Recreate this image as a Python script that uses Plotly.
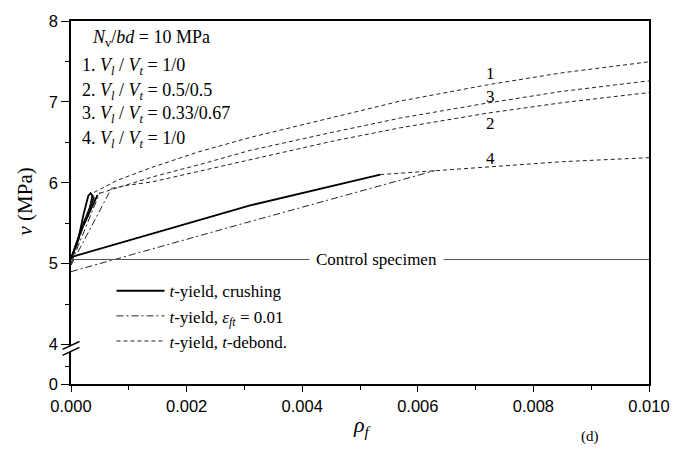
import plotly.graph_objects as go

# ---------------- data ----------------
# case 1-3: t-yield, crushing (solid)
rho_c1 = [0.0, 0.00012, 0.00022, 0.00030, 0.00034, 0.00037, 0.00030, 0.00014]
v_c1 = [5.06, 5.28, 5.62, 5.84, 5.87, 5.84, 5.60, 5.36]
rho_c2 = [0.0, 0.00020, 0.00046]
v_c2 = [5.06, 5.45, 5.85]
rho_c3 = [0.0, 0.00020, 0.00040]
v_c3 = [5.06, 5.47, 5.82]
# case 4 crushing
rho_c4 = [0.0, 0.0031, 0.00535]
v_c4 = [5.08, 5.72, 6.10]

# t-yield, eps_ft = 0.01 (dash-dot)
rho_e1 = [0.0, 0.00040]
v_e1 = [5.00, 5.86]
rho_e3 = [0.0, 0.00050]
v_e3 = [5.00, 5.88]
rho_e2 = [0.0, 0.00070]
v_e2 = [4.98, 5.93]
rho_e4 = [0.0, 0.0031, 0.0063]
v_e4 = [4.90, 5.52, 6.15]

# t-yield, t-debond (dashed)
rho_d1 = [0.0004, 0.0008, 0.0014, 0.0022, 0.0031, 0.0045, 0.0057, 0.0072, 0.0085, 0.0100]
v_d1 = [5.88, 6.03, 6.19, 6.38, 6.56, 6.80, 7.01, 7.21, 7.36, 7.495]
rho_d3 = [0.0005, 0.0009, 0.0014, 0.0022, 0.0031, 0.0045, 0.0057, 0.0072, 0.0085, 0.0100]
v_d3 = [5.87, 5.96, 6.07, 6.22, 6.40, 6.62, 6.80, 6.985, 7.13, 7.26]
rho_d2 = [0.0007, 0.0010, 0.0014, 0.0022, 0.0031, 0.0045, 0.0057, 0.0072, 0.0085, 0.0100]
v_d2 = [5.93, 5.97, 6.01, 6.14, 6.28, 6.51, 6.68, 6.86, 6.99, 7.115]
rho_d4 = [0.00535, 0.0063, 0.0072, 0.0085, 0.0100]
v_d4 = [6.10, 6.15, 6.20, 6.26, 6.31]

# control specimen
rho_ctrl = [0.0, 0.010]
v_ctrl = [5.05, 5.05]

# curve labels
lab_text = ["1", "3", "2", "4"]
lab_rho = [0.00725, 0.00725, 0.00725, 0.00725]
lab_v = [7.35, 7.07, 6.73, 6.30]

case_lines = [
    "1. <i>V</i><sub><i>l</i></sub> / <i>V</i><sub><i>t</i></sub> = 1/0",
    "2. <i>V</i><sub><i>l</i></sub> / <i>V</i><sub><i>t</i></sub> = 0.5/0.5",
    "3. <i>V</i><sub><i>l</i></sub> / <i>V</i><sub><i>t</i></sub> = 0.33/0.67",
    "4. <i>V</i><sub><i>l</i></sub> / <i>V</i><sub><i>t</i></sub> = 1/0",
]

x_ticks = [0.0, 0.002, 0.004, 0.006, 0.008, 0.010]
y_ticks_up = [4, 5, 6, 7, 8]

# ---------------- styles ----------------
SERIF = "Liberation Serif, Times New Roman, serif"
SANS = "Liberation Sans, Arial, sans-serif"
SOLID = dict(color="black", width=1.8, dash="solid")
DASHDOT = dict(color="#222", width=1.0, dash="7px,3px,2px,3px")
DASHED = dict(color="#222", width=1.0, dash="4px,3px")

fig = go.Figure()

def add(x, y, line, name, show):
    fig.add_trace(go.Scatter(x=x, y=y, mode="lines", line=line, name=name,
                             legendgroup=name, showlegend=show,
                             xaxis="x2", yaxis="y2", hoverinfo="skip"))

N_CRUSH = "<i>t</i>-yield, crushing"
N_EPS = "<i>t</i>-yield, <i>ε</i><sub><i>ft</i></sub> = 0.01"
N_DEB = "<i>t</i>-yield, <i>t</i>-debond."

add(rho_c1, v_c1, SOLID, N_CRUSH, True)
add(rho_c2, v_c2, SOLID, N_CRUSH, False)
add(rho_c3, v_c3, SOLID, N_CRUSH, False)
add(rho_c4, v_c4, SOLID, N_CRUSH, False)
add(rho_e1, v_e1, DASHDOT, N_EPS, True)
add(rho_e2, v_e2, DASHDOT, N_EPS, False)
add(rho_e3, v_e3, DASHDOT, N_EPS, False)
add(rho_e4, v_e4, DASHDOT, N_EPS, False)
add(rho_d1, v_d1, DASHED, N_DEB, True)
add(rho_d2, v_d2, DASHED, N_DEB, False)
add(rho_d3, v_d3, DASHED, N_DEB, False)
add(rho_d4, v_d4, DASHED, N_DEB, False)
fig.add_trace(go.Scatter(x=rho_ctrl, y=v_ctrl, mode="lines",
                         line=dict(color="#555", width=1.0), showlegend=False,
                         xaxis="x2", yaxis="y2", hoverinfo="skip"))
# empty trace so that the lower (broken) axis segment is rendered
fig.add_trace(go.Scatter(x=[None], y=[None], mode="lines", showlegend=False,
                         xaxis="x", yaxis="y", hoverinfo="skip"))

# ---------------- layout geometry ----------------
W, H = 690, 452
L, R, T, B = 70.5, 41, 17, 68
plot_h = H - T - B           # 367
low_frac = 36 / plot_h       # lower (0-4) segment height fraction

def px(xp):
    return (xp - L) / (W - L - R)

def py(yp):
    return (H - B - yp) / plot_h

axis_common = dict(showgrid=False, zeroline=False, linecolor="black",
                   linewidth=1.6, tickcolor="black",
                   tickfont=dict(family=SANS, size=16.5, color="black"))

fig.update_layout(
    width=W, height=H,
    margin=dict(l=L, r=R, t=T, b=B, pad=0),
    plot_bgcolor="white", paper_bgcolor="white",
    xaxis=dict(domain=[0, 1], anchor="y", range=[0, 0.010],
               tickvals=x_ticks, tickformat=".3f", ticks="outside", ticklen=6,
               tickwidth=1.3, showline=True, mirror=False,
               minor=dict(dtick=0.001, ticks="outside", ticklen=4,
                          tickcolor="black", tickwidth=1.2),
               **axis_common),
    yaxis=dict(domain=[0, low_frac], anchor="x", range=[0, 4],
               tickvals=[0], ticks="outside", ticklen=8, tickwidth=1.3,
               showline=True, mirror=True,
               minor=dict(tickvals=[2], ticks="outside", ticklen=4,
                          tickcolor="black", tickwidth=1.2),
               **axis_common),
    xaxis2=dict(domain=[0, 1], anchor="y2", range=[0, 0.010], side="top",
                showline=True, showticklabels=False, ticks="", mirror=False,
                **axis_common),
    yaxis2=dict(domain=[low_frac, 1], anchor="x2",
                range=[4 - 4 / 81.75, 8], tickvals=y_ticks_up,
                ticks="outside", ticklen=8, tickwidth=1.3,
                showline=True, mirror=True,
                minor=dict(dtick=0.5, ticks="outside", ticklen=4,
                           tickcolor="black", tickwidth=1.2),
                **axis_common),
    legend=dict(x=px(111), y=py(272), xanchor="left", yanchor="top",
                bgcolor="rgba(0,0,0,0)", borderwidth=0,
                font=dict(family=SERIF, size=17, color="black"),
                itemwidth=48, tracegroupgap=0, traceorder="normal"),
)

annotations = []
annotations.append(dict(text="<i>N</i><sub>v</sub>/<i>bd</i> = 10 MPa",
                        x=px(90), y=py(35), xref="paper", yref="paper",
                        xanchor="left", yanchor="middle", showarrow=False,
                        font=dict(family=SERIF, size=18, color="black")))
for i, (s, ypix) in enumerate(zip(case_lines, [63, 88, 112, 137])):
    annotations.append(dict(text=s, x=px(80), y=py(ypix), xref="paper",
                            yref="paper", xanchor="left", yanchor="middle",
                            showarrow=False,
                            font=dict(family=SERIF, size=18, color="black")))
for t, xr, yv in zip(lab_text, lab_rho, lab_v):
    annotations.append(dict(text=t, x=xr, y=yv, xref="x2", yref="y2",
                            xanchor="center", yanchor="middle",
                            showarrow=False,
                            font=dict(family=SERIF, size=17, color="black")))
annotations.append(dict(text="Control specimen", x=0.00528, y=v_ctrl[0],
                        xref="x2", yref="y2", showarrow=False,
                        xanchor="center", yanchor="middle",
                        bgcolor="white", borderpad=6,
                        font=dict(family=SERIF, size=17, color="black")))
annotations.append(dict(text="<i>v</i> (MPa)", x=px(24), y=py(200),
                        xref="paper", yref="paper", textangle=-90,
                        xanchor="center", yanchor="middle",
                        showarrow=False,
                        font=dict(family=SERIF, size=21, color="black")))
annotations.append(dict(text="<i>ρ</i><sub><i>f</i></sub>", x=px(362),
                        y=py(426), xref="paper", yref="paper",
                        xanchor="center", yanchor="middle",
                        showarrow=False,
                        font=dict(family=SERIF, size=22, color="black")))
annotations.append(dict(text="(d)", x=px(590), y=py(437), xref="paper",
                        yref="paper", xanchor="center", yanchor="middle",
                        showarrow=False,
                        font=dict(family=SERIF, size=15, color="black")))
fig.update_layout(annotations=annotations)

# axis break marks
x1, x2 = px(62), px(79)
shapes = [
    dict(type="path", xref="paper", yref="paper",
         path=f"M {x1},{py(349)} L {x2},{py(341)} L {x2},{py(347)} L {x1},{py(355)} Z",
         fillcolor="white", line=dict(width=0)),
    dict(type="line", xref="paper", yref="paper", x0=x1, y0=py(349),
         x1=x2, y1=py(341), line=dict(color="black", width=1.5)),
    dict(type="line", xref="paper", yref="paper", x0=x1, y0=py(355),
         x1=x2, y1=py(347), line=dict(color="black", width=1.5)),
]
fig.update_layout(shapes=shapes)

fig.write_html("out.html")
